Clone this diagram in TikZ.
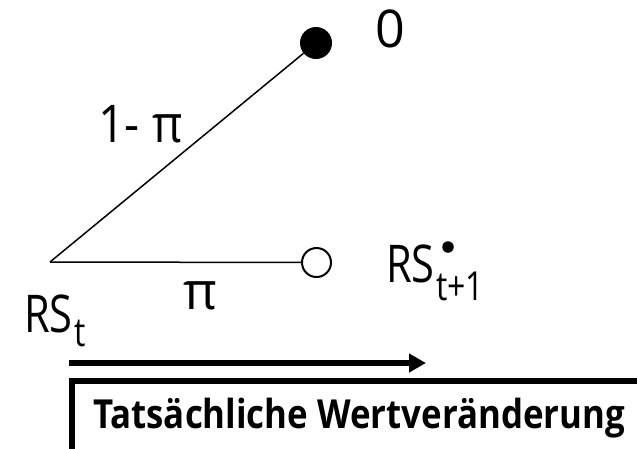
\documentclass[tikz,border=0pt]{standalone}
\usepackage{fontspec}
\setmainfont{Open Sans}
\usetikzlibrary{arrows.meta}
\newcommand{\bigtxt}{\fontsize{52}{60}\selectfont}
\newcommand{\subtxt}{\fontsize{40}{46}\selectfont}
\newcommand{\nar}[1]{\scalebox{0.8}[1]{#1}}
\tikzset{
  lbl/.style={inner sep=0pt, anchor=base west, font=\bigtxt},
  sublbl/.style={inner sep=0pt, anchor=base west, font=\subtxt},
  branch/.style={line width=1.5pt},
  dotfilled/.style={circle, fill=black, inner sep=0pt, minimum size=32pt},
  dotopen/.style={circle, draw=black, line width=2pt, fill=white, inner sep=0pt, minimum size=29pt},
  timearrow/.style={line width=6pt, -{Triangle[length=17pt,width=18pt]}},
  framebox/.style={line width=6pt},
}
\begin{document}
\begin{tikzpicture}[x=1pt,y=-1pt]
\useasboundingbox (0,0) rectangle (637,448);
\clip (0,0) rectangle (637,448);
% tree
\coordinate (root) at (50,262);
\node[dotfilled] (top) at (316,43) {};
\node[dotopen] (bot) at (316.5,262.5) {};
\draw[branch] (root) -- (top);
\draw[branch] (root) -- (bot);
% labels
\node[lbl] (zero) at (375,47) {0};
\node[lbl] (onepi) at (98,142) {\scalebox{0.9}[1]{1- π}};
\node[lbl] (pi) at (183,309) {π};
\node[lbl] (rst) at (24,332) {\nar{RS}};
\node[sublbl] (rstsub) at ([xshift=1pt,yshift=-14pt]rst.base east) {\nar{t}};
\node[lbl] (rsn) at (386,282) {\nar{RS}};
\node[sublbl] (rsnsub) at ([xshift=1pt,yshift=-18pt]rsn.base east) {\nar{t+1}};
\node[circle, fill=black, inner sep=0pt, minimum size=11.5pt] (star) at (448,247) {};
% time arrow
\coordinate (astart) at (69,363);
\coordinate (aend) at (426,363);
\draw[timearrow] (astart) -- (aend);
% box
\coordinate (bl) at (72,470);
\coordinate (tl) at (72,381);
\coordinate (tr) at (660,381);
\draw[framebox] (bl) -- (tl) -- (tr);
\node[inner sep=0pt, anchor=base west, font=\fontsize{40}{46}\selectfont\bfseries] (wert) at (93,428) {\scalebox{0.87}[1]{Tatsächliche Wertveränderung}};
\end{tikzpicture}
\end{document}
